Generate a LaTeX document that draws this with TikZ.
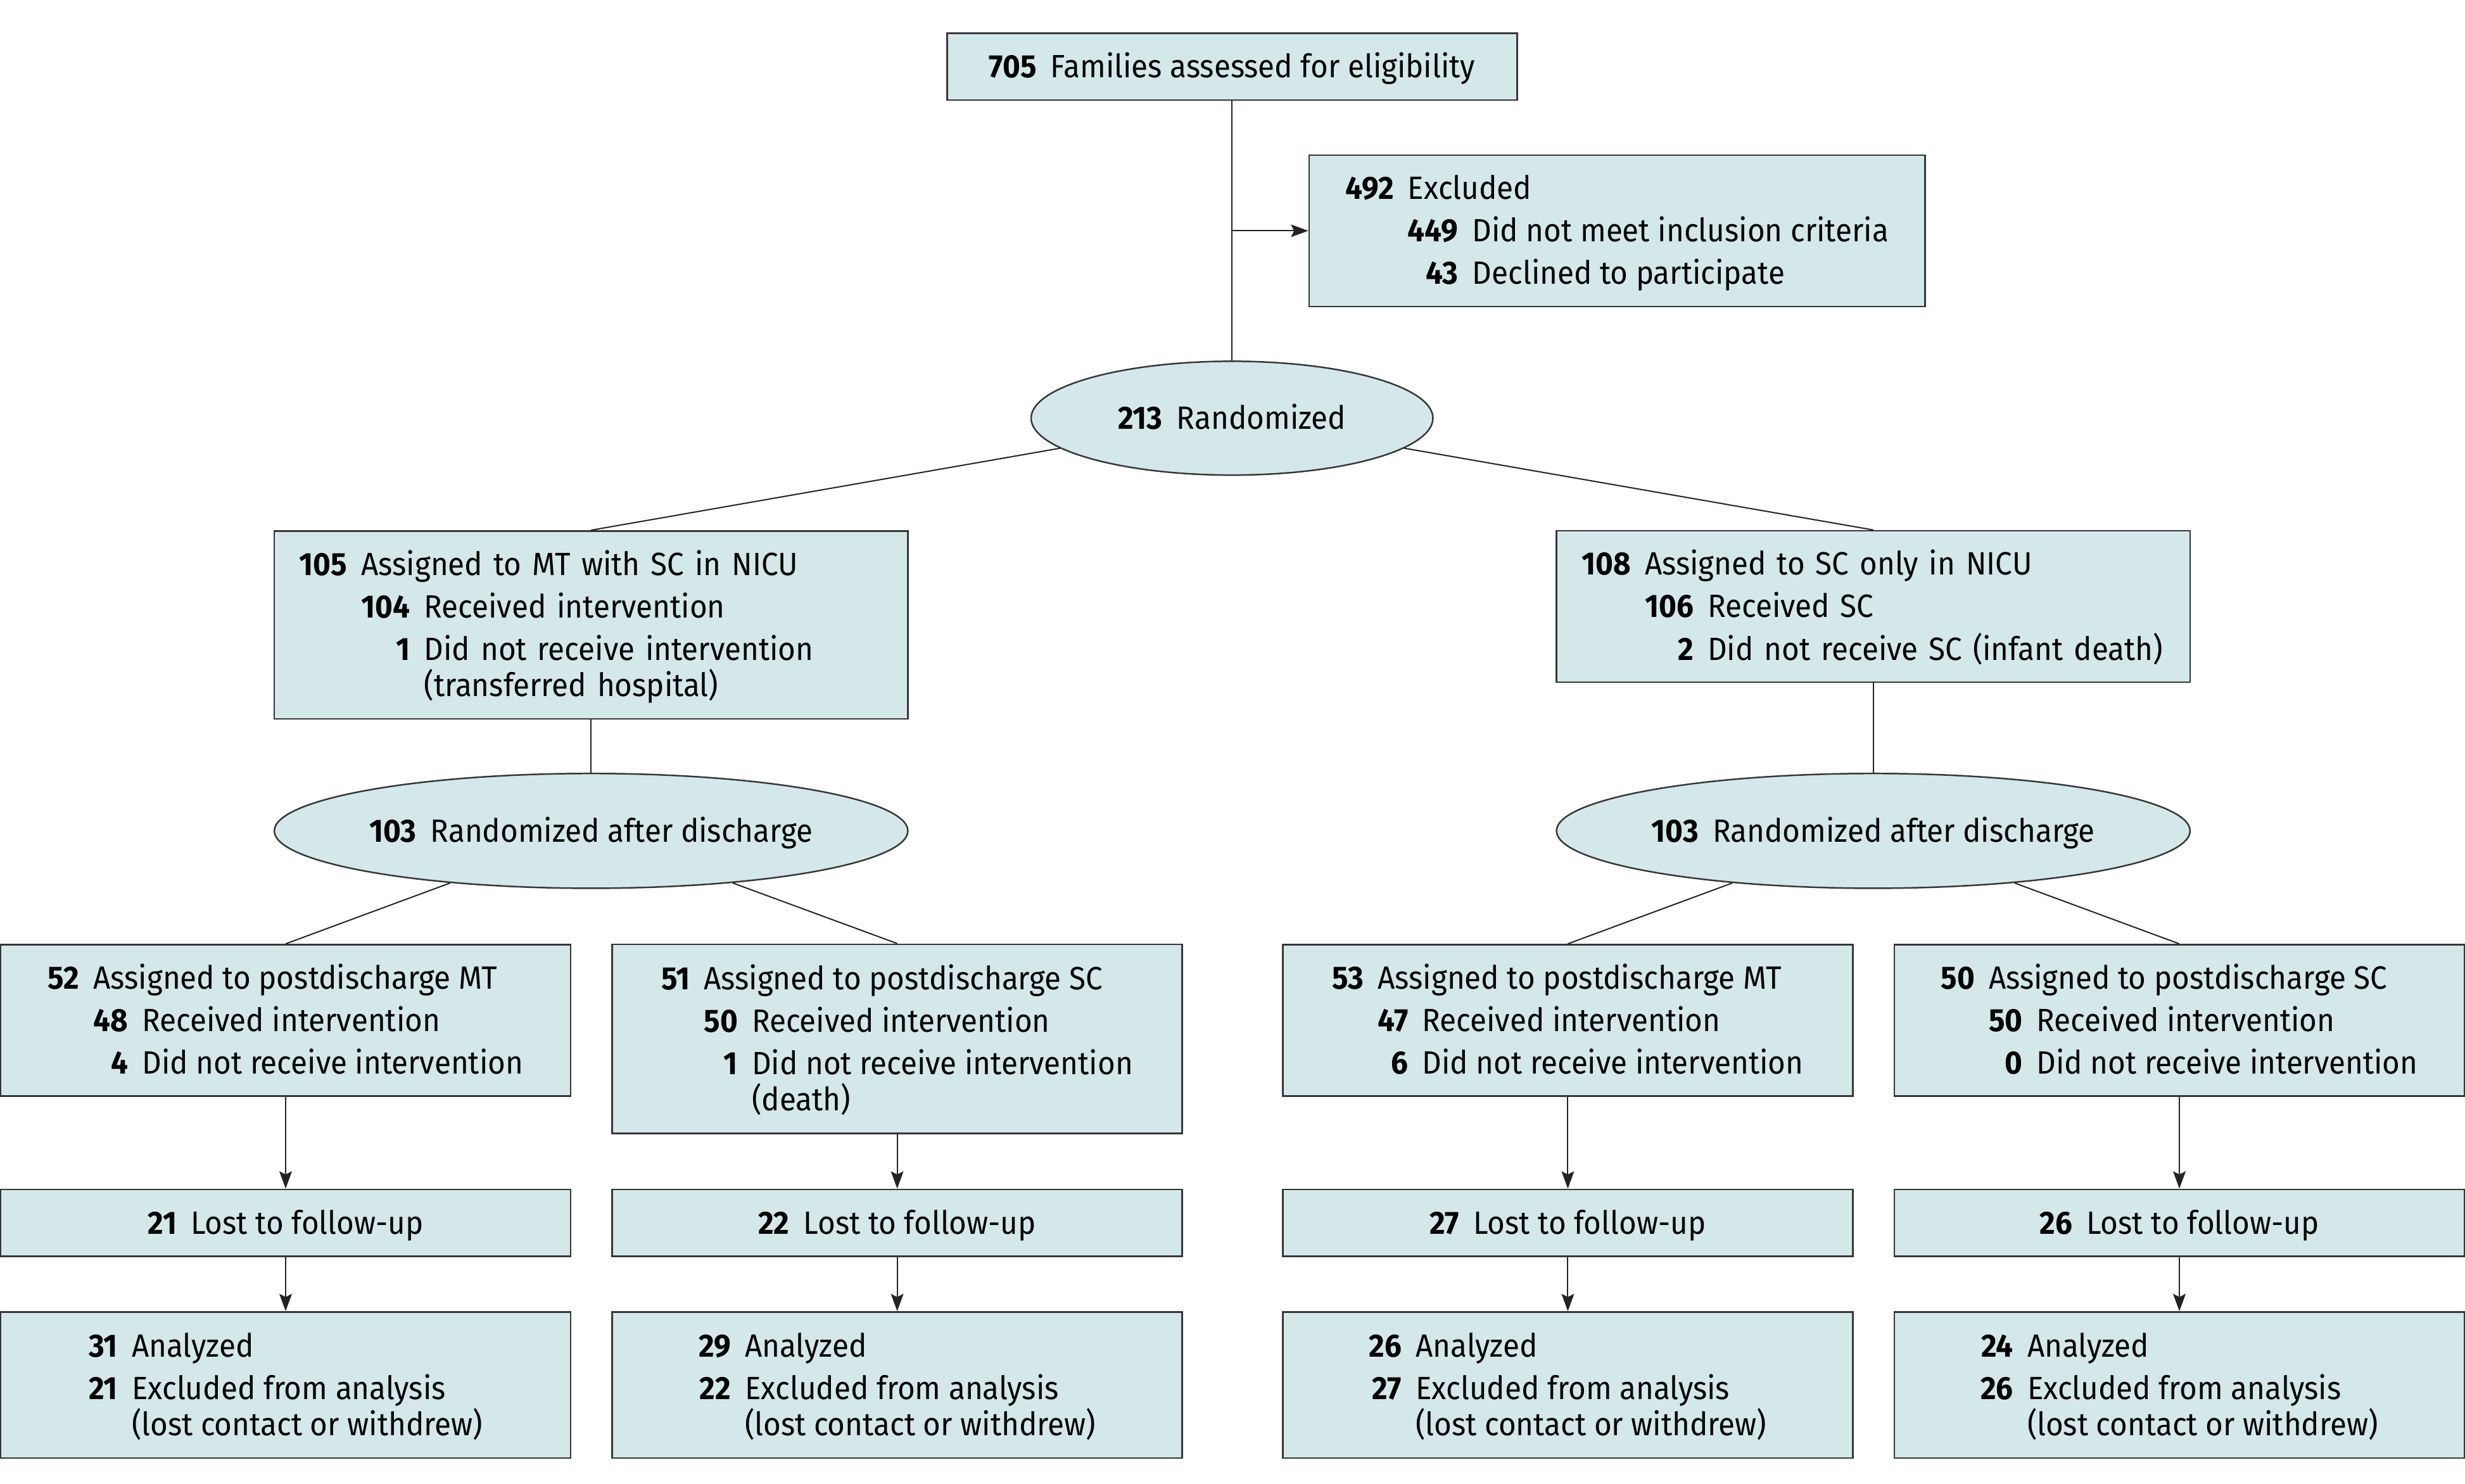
\documentclass[tikz,border=0pt]{standalone}
\usepackage{fontspec}
\setmainfont{Fira Sans}[FakeStretch=0.935]
\usepackage{xcolor}
\usetikzlibrary{shapes.geometric,arrows.meta}

\definecolor{boxfill}{RGB}{213,232,233}
\definecolor{boxline}{RGB}{55,55,55}
\definecolor{linkline}{RGB}{35,35,35}

\newcommand{\cnt}[1]{\textbf{#1}\hspace{9pt}}
\newcommand{\randtext}[1]{\makebox[0pt]{#1}}
\newcommand{\rows}[1]{\raisebox{-1.6pt}[\height][\depth]{\begin{tabular}{@{}r@{\hspace{9pt}}r@{\hspace{9pt}}l@{}}#1\end{tabular}}}
\newcommand{\wide}[1]{\multicolumn{2}{@{}l@{}}{#1}}

\begin{document}
\begin{tikzpicture}[>={Stealth[length=11pt,width=8pt,inset=2pt]},x=1pt,y=-1pt,
    every node/.style={font=\fontsize{20.5}{27}\selectfont,inner sep=0pt},
    flowbox/.style={rectangle,draw=boxline,line width=1pt,fill=boxfill},
    randbox/.style={ellipse,draw=boxline,line width=1pt,fill=boxfill,oneline},
    oneline/.style={text height=19pt,text depth=4.9pt},
    armbox/.style={flowbox,minimum width=362.5pt},
    nicubox/.style={flowbox,text width=371pt,align=left,inner xsep=16pt,minimum width=403pt},
    link/.style={draw=linkline,line width=0.8pt}]
          \useasboundingbox (0,0) rectangle (1568,943.6);

          \node[flowbox,oneline,minimum width=362.6pt,minimum height=42.5pt] (assess) at (783.7,42.5)
            {\cnt{705}Families assessed for eligibility};
          \node[flowbox,minimum width=391.8pt,minimum height=96.2pt] (excl) at (1028.6,146.8)
            {\rows{\textbf{492} & \wide{Excluded}\\
                   & \textbf{449} & Did not meet inclusion criteria\\
                   & \textbf{43} & Declined to participate}};
          \node[randbox,minimum width=255.6pt,minimum height=72.4pt] (rand) at (783.7,266)
            {\randtext{\cnt{213}Randomized}};

          \node[nicubox,minimum height=119.5pt] (nicuMT) at (376,397.5)
            {\rows{\textbf{105} & \wide{Assigned to MT with SC in NICU}\\
                   & \textbf{104} & Received intervention\\
                   & \textbf{1} & Did not receive intervention\\[-4pt]
                   & & (transferred hospital)}};
          \node[nicubox,minimum height=96.4pt] (nicuSC) at (1191.6,385.8)
            {\rows{\textbf{108} & \wide{Assigned to SC only in NICU}\\
                   & \textbf{106} & Received SC\\
                   & \textbf{2} & Did not receive SC (infant death)}};

          \node[randbox,minimum width=403pt,minimum height=73pt] (randMT) at (376,528.5)
            {\randtext{\cnt{103}Randomized after discharge}};
          \node[randbox,minimum width=403pt,minimum height=73pt] (randSC) at (1191.6,528.5)
            {\randtext{\cnt{103}Randomized after discharge}};

          \node[armbox,minimum height=96.3pt] (mtmt) at (181.7,649)
            {\rows{\textbf{52} & \wide{Assigned to postdischarge MT}\\
                   & \textbf{48} & Received intervention\\
                   & \textbf{4} & Did not receive intervention}};
          \node[armbox,minimum height=120.3pt] (mtsc) at (570.7,660.8)
            {\rows{\textbf{51} & \wide{Assigned to postdischarge SC}\\
                   & \textbf{50} & Received intervention\\
                   & \textbf{1} & Did not receive intervention\\[-4pt]
                   & & (death)}};
          \node[armbox,minimum height=96.3pt] (scmt) at (997.3,649)
            {\rows{\textbf{53} & \wide{Assigned to postdischarge MT}\\
                   & \textbf{47} & Received intervention\\
                   & \textbf{6} & Did not receive intervention}};
          \node[armbox,minimum height=96.3pt] (scsc) at (1386.3,649)
            {\rows{\textbf{50} & \wide{Assigned to postdischarge SC}\\
                   & \textbf{50} & Received intervention\\
                   & \textbf{0} & Did not receive intervention}};

          \node[armbox,oneline,minimum height=42.5pt] (mtmtLost) at (181.7,777.8) {\cnt{21}Lost to follow-up};
          \node[armbox,oneline,minimum height=42.5pt] (mtscLost) at (570.7,777.8) {\cnt{22}Lost to follow-up};
          \node[armbox,oneline,minimum height=42.5pt] (scmtLost) at (997.3,777.8) {\cnt{27}Lost to follow-up};
          \node[armbox,oneline,minimum height=42.5pt] (scscLost) at (1386.3,777.8) {\cnt{26}Lost to follow-up};

          \node[armbox,minimum height=93pt] (mtmtAna) at (181.7,881)
            {\rows{\textbf{31} & \wide{Analyzed}\\
                   \textbf{21} & \wide{Excluded from analysis}\\[-4pt]
                   & \wide{(lost contact or withdrew)}}};
          \node[armbox,minimum height=93pt] (mtscAna) at (570.7,881)
            {\rows{\textbf{29} & \wide{Analyzed}\\
                   \textbf{22} & \wide{Excluded from analysis}\\[-4pt]
                   & \wide{(lost contact or withdrew)}}};
          \node[armbox,minimum height=93pt] (scmtAna) at (997.3,881)
            {\rows{\textbf{26} & \wide{Analyzed}\\
                   \textbf{27} & \wide{Excluded from analysis}\\[-4pt]
                   & \wide{(lost contact or withdrew)}}};
          \node[armbox,minimum height=93pt] (scscAna) at (1386.3,881)
            {\rows{\textbf{24} & \wide{Analyzed}\\
                   \textbf{26} & \wide{Excluded from analysis}\\[-4pt]
                   & \wide{(lost contact or withdrew)}}};

          \coordinate (split) at (assess.south |- excl.west);
          \draw[link] (assess) -- (rand);
          \draw[link,->] (split) -- (excl);
          \draw[link] (rand) -- (nicuMT.north);
          \draw[link] (rand) -- (nicuSC.north);
          \draw[link] (nicuMT) -- (randMT);
          \draw[link] (nicuSC) -- (randSC);

          \draw[link] (randMT) -- (mtmt.north);
          \draw[link] (randMT) -- (mtsc.north);
          \draw[link] (randSC) -- (scmt.north);
          \draw[link] (randSC) -- (scsc.north);

          \draw[link,->] (mtmt) -- (mtmtLost);
          \draw[link,->] (mtsc) -- (mtscLost);
          \draw[link,->] (scmt) -- (scmtLost);
          \draw[link,->] (scsc) -- (scscLost);
          \draw[link,->] (mtmtLost) -- (mtmtAna);
          \draw[link,->] (mtscLost) -- (mtscAna);
          \draw[link,->] (scmtLost) -- (scmtAna);
          \draw[link,->] (scscLost) -- (scscAna);
        \end{tikzpicture}
\end{document}
